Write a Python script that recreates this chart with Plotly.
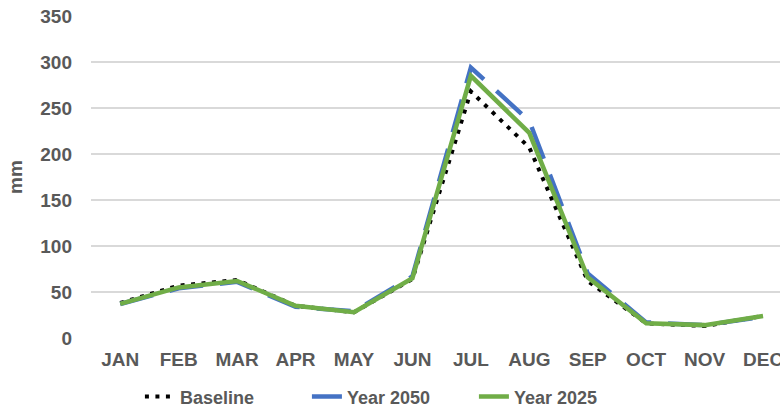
import plotly.graph_objects as go

# Monthly rainfall (mm)
months = ["JAN", "FEB", "MAR", "APR", "MAY", "JUN", "JUL", "AUG", "SEP", "OCT", "NOV", "DEC"]
baseline = [38, 57, 63, 35, 28, 64, 268, 207, 62, 16, 13, 24]
year_2050 = [37, 54, 61, 34, 29, 67, 294, 236, 70, 17, 14, 23]
year_2025 = [37, 55, 62, 35, 28, 65, 285, 223, 66, 16, 14, 24]
y_ticks = [0, 50, 100, 150, 200, 250, 300, 350]

TEXT = "#595959"
FONT = "Liberation Sans, Arial, sans-serif"

fig = go.Figure()
fig.add_trace(go.Scatter(
    x=months, y=baseline, name="Baseline", mode="lines",
    line=dict(color="#000000", width=4, dash="4px,6.5px"),
))
fig.add_trace(go.Scatter(
    x=months, y=year_2050, name="Year 2050", mode="lines",
    line=dict(color="#4472C4", width=4.5, dash="34px,17px"),
))
fig.add_trace(go.Scatter(
    x=months, y=year_2025, name="Year 2025", mode="lines",
    line=dict(color="#70AD47", width=4.5),
))

fig.update_layout(
    width=780, height=410,
    margin=dict(l=91, r=0, t=16, b=72, pad=0, autoexpand=False),
    paper_bgcolor="white", plot_bgcolor="white",
    font=dict(family=FONT, color=TEXT, size=18),
    showlegend=True,
    legend=dict(
        orientation="h", x=0.071, xanchor="left",
        yref="container", y=0.032, yanchor="middle",
        font=dict(family=FONT, size=18, color=TEXT, weight="bold"),
        entrywidth=122, entrywidthmode="pixels",
        bgcolor="rgba(0,0,0,0)",
    ),
    xaxis=dict(
        type="category", range=[-0.5, 11.29], automargin=False,
        showgrid=False, showline=False, zeroline=False,
        ticks="", ticklabelstandoff=8,
        tickfont=dict(family=FONT, size=19, color=TEXT, weight="bold"),
    ),
    yaxis=dict(
        range=[0, 350], tickvals=y_ticks, automargin=False,
        showgrid=True, gridcolor="#D9D9D9", gridwidth=1.5,
        zeroline=False, showline=False, ticks="", ticklabelstandoff=18,
        tickfont=dict(family=FONT, size=19, color=TEXT, weight="bold"),
        title=dict(text="mm", standoff=12,
                   font=dict(family=FONT, size=19, color=TEXT, weight="bold")),
    ),
)

fig.write_html("out.html")
